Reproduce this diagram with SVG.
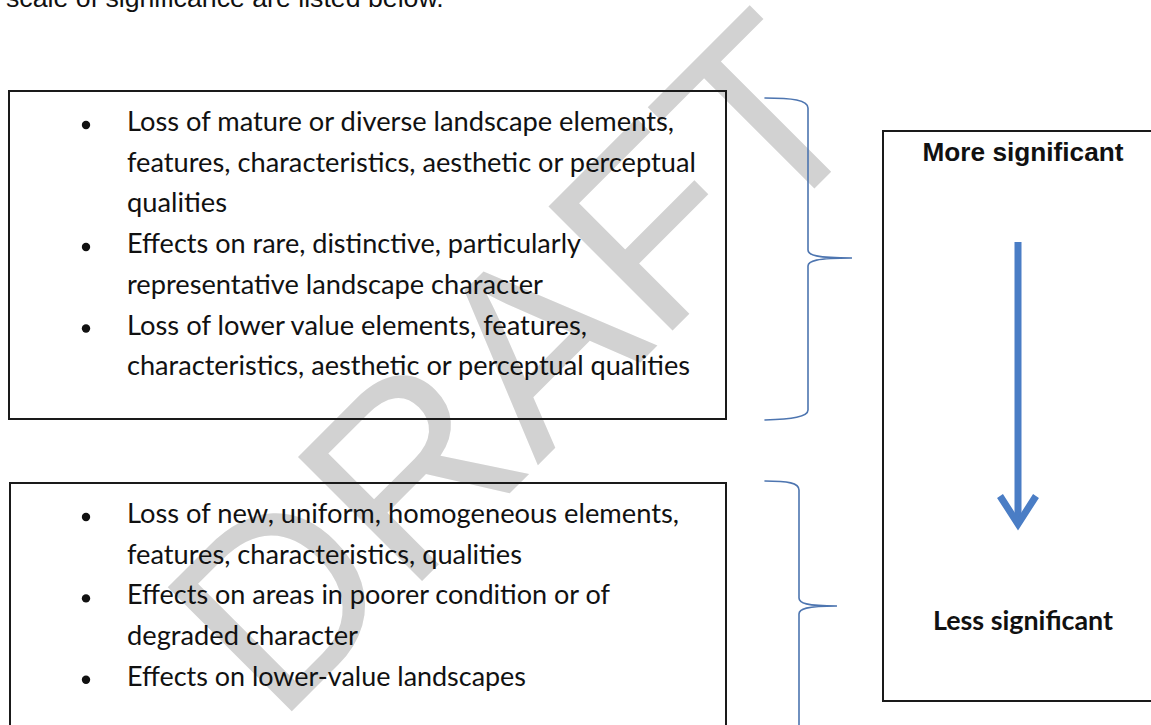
<svg xmlns="http://www.w3.org/2000/svg" width="1151" height="725" viewBox="0 0 1151 725">
  <style>
    .box { fill: none; stroke: #1a1a1a; stroke-width: 2; }
    .body { font-family: Lato, "Open Sans", "Liberation Sans", sans-serif; font-size: 26px; fill: #111; }
    .bullet { fill: #111; }
    .brace { fill: none; stroke: #4d75b0; stroke-width: 1.6; stroke-linecap: round; }
    .arial { font-family: "Liberation Sans", Arial, sans-serif; fill: #111; }
    .wm { font-family: "Liberation Sans", Arial, sans-serif; font-size: 255px; fill: #d2d2d2; }
    .arrow { fill: none; stroke: #4a7dc5; stroke-width: 7; }
  </style>
  <rect width="1151" height="725" fill="#ffffff"/>

  <g id="watermark">
    <text class="wm" x="277" y="726" transform="rotate(-45 277 726)">DRAFT</text>
  </g>

  <g id="intro">
    <text class="arial" x="6" y="6.5" font-size="26.7">scale of significance are listed below.</text>
  </g>

  <g id="box-high">
    <rect class="box" x="9" y="91" width="717" height="328"/>
    <circle class="bullet" cx="86" cy="125" r="4.2"/>
    <circle class="bullet" cx="86" cy="247" r="4.2"/>
    <circle class="bullet" cx="86" cy="328.5" r="4.2"/>
    <text class="body" x="127" y="131" textLength="547" lengthAdjust="spacingAndGlyphs">Loss of mature or diverse landscape elements,</text>
    <text class="body" x="127" y="171.7" textLength="569" lengthAdjust="spacingAndGlyphs">features, characteristics, aesthetic or perceptual</text>
    <text class="body" x="127" y="212.4" textLength="100" lengthAdjust="spacingAndGlyphs">qualities</text>
    <text class="body" x="127" y="253.1" textLength="454" lengthAdjust="spacingAndGlyphs">Effects on rare, distinctive, particularly</text>
    <text class="body" x="127" y="293.8" textLength="416" lengthAdjust="spacingAndGlyphs">representative landscape character</text>
    <text class="body" x="127" y="334.5" textLength="460" lengthAdjust="spacingAndGlyphs">Loss of lower value elements, features,</text>
    <text class="body" x="127" y="375.2" textLength="563" lengthAdjust="spacingAndGlyphs">characteristics, aesthetic or perceptual qualities</text>
  </g>

  <g id="box-low">
    <rect class="box" x="10" y="483" width="716" height="260"/>
    <circle class="bullet" cx="86" cy="517" r="4.2"/>
    <circle class="bullet" cx="86" cy="598.4" r="4.2"/>
    <circle class="bullet" cx="86" cy="679.8" r="4.2"/>
    <text class="body" x="127" y="523" textLength="552" lengthAdjust="spacingAndGlyphs">Loss of new, uniform, homogeneous elements,</text>
    <text class="body" x="127" y="563.7" textLength="395" lengthAdjust="spacingAndGlyphs">features, characteristics, qualities</text>
    <text class="body" x="127" y="604.4" textLength="483" lengthAdjust="spacingAndGlyphs">Effects on areas in poorer condition or of</text>
    <text class="body" x="127" y="645.1" textLength="231" lengthAdjust="spacingAndGlyphs">degraded character</text>
    <text class="body" x="127" y="685.8" textLength="399" lengthAdjust="spacingAndGlyphs">Effects on lower-value landscapes</text>
  </g>

  <g id="scale">
    <rect class="box" x="883" y="131" width="300" height="570"/>
    <text class="arial" x="1023" y="161" font-size="26" font-weight="bold" text-anchor="middle" textLength="201" lengthAdjust="spacingAndGlyphs">More significant</text>
    <line class="arrow" x1="1018" y1="242" x2="1018" y2="522"/>
    <polyline class="arrow" points="1000,496 1018,524 1036,496" stroke-linejoin="miter"/>
    <text class="body" x="1023" y="630" font-weight="bold" text-anchor="middle" textLength="180" lengthAdjust="spacingAndGlyphs">Less significant</text>
  </g>

  <g id="connectors">
    <path class="brace" d="M765,98 C792,98 808,100 808,108 L808,250 C808,255 816,258 852,258 C816,258 808,261 808,266 L808,410 C808,417 792,419 765,420"/>
    <path class="brace" d="M765,481 C788,481 799,483 799,490 L799,598 C799,603 806,606 837,606 C806,606 799,609 799,614 L799,740"/>
  </g>
</svg>
